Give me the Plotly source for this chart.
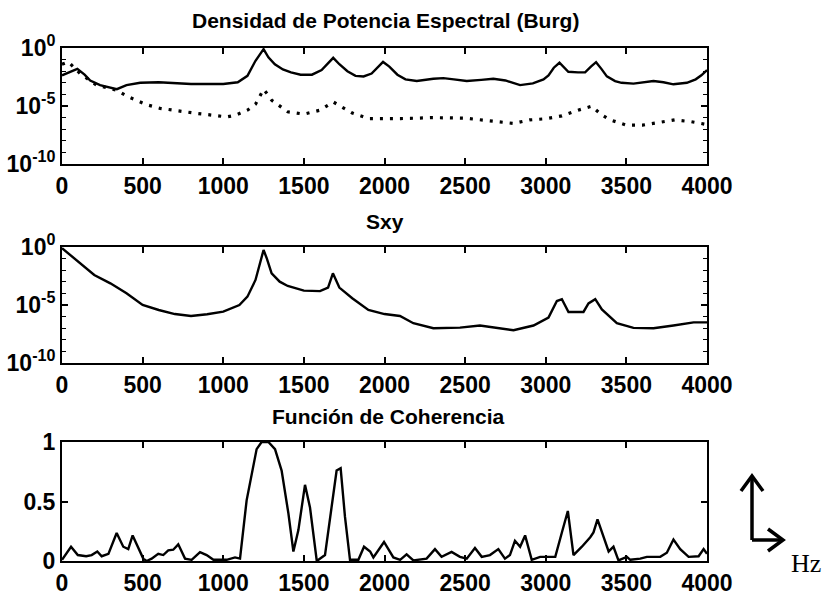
import plotly.graph_objects as go

# ---------------- data ----------------
# Panel 1: Burg PSD, solid series (Hz, log10 value)
psd1_hz = [0, 50, 95, 140, 175, 236, 300, 340, 400, 485, 600, 700, 800, 900, 1000, 1090,
           1150, 1200, 1230, 1250, 1280, 1320, 1370, 1420, 1480, 1550, 1610, 1650, 1682,
           1720, 1770, 1820, 1870, 1920, 1960, 1991, 2030, 2080, 2130, 2200, 2303, 2365,
           2430, 2510, 2600, 2675, 2750, 2841, 2920, 2986, 3017, 3050, 3085, 3115, 3140,
           3200, 3244, 3280, 3312, 3345, 3379, 3430, 3470, 3544, 3610, 3668, 3730, 3792,
           3875, 3930, 3965, 4000]
psd1_log = [-2.36, -2.1, -1.8, -2.3, -2.8, -3.2, -3.4, -3.55, -3.2, -3.0, -2.95, -3.05, -3.1,
            -3.1, -3.1, -2.95, -2.4, -1.1, -0.5, -0.1, -0.8, -1.4, -1.85, -2.1, -2.3, -2.3,
            -1.9, -1.3, -0.85, -1.4, -2.0, -2.4, -2.45, -2.2, -1.6, -1.2, -1.6, -2.3, -2.7,
            -2.85, -2.65, -2.6, -2.7, -2.85, -2.75, -2.65, -2.8, -3.2, -3.05, -2.7, -2.36,
            -1.7, -1.27, -1.7, -2.05, -2.1, -2.1, -1.6, -1.22, -1.8, -2.45, -2.85, -3.0,
            -3.07, -2.95, -2.85, -2.95, -3.13, -3.0, -2.7, -2.35, -1.9]

# Panel 1: Burg PSD, dotted series
psd2_hz = [0, 40, 112, 215, 340, 410, 527, 608, 815, 1022, 1075, 1150, 1200, 1235, 1250,
           1275, 1300, 1400, 1500, 1600, 1682, 1750, 1800, 1900, 2000, 2100, 2200, 2300,
           2500, 2700, 2800, 2900, 3000, 3100, 3200, 3285, 3350, 3400, 3500, 3600, 3700,
           3800, 3900, 4000]
psd2_log = [-1.4, -1.2, -2.2, -3.2, -3.65, -4.2, -4.9, -5.2, -5.6, -5.94, -5.8, -5.36, -4.85,
            -4.0, -3.56, -4.0, -4.5, -5.5, -5.7, -5.36, -4.65, -5.2, -5.6, -6.08, -6.1,
            -6.08, -6.05, -6.0, -6.05, -6.37, -6.5, -6.2, -6.1, -5.85, -5.36, -5.02, -5.8,
            -6.2, -6.65, -6.65, -6.45, -6.2, -6.35, -6.6]

# Panel 2: cross spectrum Sxy
sxy_hz = [0, 100, 200, 300, 400, 500, 600, 700, 800, 900, 1000, 1100, 1150, 1200, 1230,
          1250, 1270, 1300, 1350, 1400, 1500, 1600, 1650, 1680, 1720, 1800, 1900, 2000,
          2096, 2179, 2303, 2468, 2592, 2717, 2800, 2924, 3017, 3069, 3100, 3141, 3234,
          3265, 3307, 3348, 3441, 3544, 3668, 3792, 3917, 4000]
sxy_log = [-0.1, -1.25, -2.41, -3.13, -3.99, -5.0, -5.43, -5.78, -5.95, -5.8, -5.57, -5.0,
           -4.28, -2.84, -1.26, -0.26, -0.98, -2.27, -2.99, -3.36, -3.76, -3.8, -3.5, -2.27,
           -3.5, -4.42, -5.43, -5.78, -5.95, -6.57, -7.0, -6.95, -6.77, -7.05, -7.18,
           -6.77, -6.08, -4.66, -4.5, -5.6, -5.6, -4.86, -4.5, -5.38, -6.57, -6.97, -7.0,
           -6.77, -6.5, -6.5]

# Panel 3: coherence function
coh_hz = [0, 56, 98, 150, 184, 219, 246, 288, 339, 380, 411, 438, 504, 525, 556, 597, 628,
          659, 690, 721, 763, 804, 856, 897, 939, 1021, 1073, 1104, 1145, 1176, 1207, 1238,
          1280, 1321, 1362, 1404, 1435, 1466, 1507, 1538, 1580, 1631, 1672, 1703, 1728,
          1755, 1786, 1838, 1873, 1911, 1931, 1997, 2055, 2097, 2137, 2179, 2261, 2313,
          2354, 2416, 2468, 2510, 2561, 2603, 2654, 2706, 2747, 2778, 2809, 2841, 2872,
          2913, 2965, 3017, 3059, 3100, 3137, 3172, 3224, 3276, 3296, 3321, 3358, 3390,
          3420, 3451, 3503, 3524, 3586, 3627, 3710, 3751, 3792, 3834, 3886, 3948, 3979, 4000]
coh_val = [0.01, 0.12, 0.05, 0.04, 0.05, 0.08, 0.04, 0.06, 0.235, 0.12, 0.1, 0.215, 0.02, 0.0,
           0.02, 0.06, 0.05, 0.09, 0.095, 0.14, 0.02, 0.01, 0.075, 0.05, 0.01, 0.01, 0.03,
           0.02, 0.51, 0.71, 0.94, 1.0, 1.0, 0.94, 0.76, 0.40, 0.08, 0.26, 0.64, 0.45, 0.0,
           0.05, 0.45, 0.76, 0.78, 0.37, 0.01, 0.01, 0.12, 0.08, 0.03, 0.16, 0.03, 0.01,
           0.056, 0.005, 0.02, 0.1, 0.035, 0.076, 0.035, 0.02, 0.11, 0.035, 0.05, 0.10,
           0.02, 0.05, 0.17, 0.12, 0.215, 0.01, 0.035, 0.035, 0.035, 0.24, 0.42, 0.05, 0.12,
           0.2, 0.24, 0.35, 0.2, 0.08, 0.12, 0.005, 0.035, 0.01, 0.02, 0.035, 0.035, 0.07,
           0.18, 0.10, 0.035, 0.04, 0.10, 0.06]

x_ticks = [0, 500, 1000, 1500, 2000, 2500, 3000, 3500, 4000]
log_major_exps = [0, -5, -10]
log_major_labels = ["10<sup>0</sup>", "10<sup>-5</sup>", "10<sup>-10</sup>"]
log_minor_exps = list(range(0, -11, -1))
coh_ticks = [0, 0.5, 1]
coh_tick_labels = ["0", "0.5", "1"]

titles = ["Densidad de Potencia Espectral (Burg)", "Sxy", "Función de Coherencia"]

# ---------------- figure ----------------
W, H = 824, 596
def px(x):
    return x / W
def py(y):
    return 1 - y / H

FONT = "Liberation Sans, Arial, Helvetica, sans-serif"
tickfont = dict(family=FONT, size=23, color="black", weight="bold")

fig = go.Figure()
line_w = 2.4
fig.add_trace(go.Scatter(x=psd1_hz, y=[10 ** v for v in psd1_log], mode="lines",
                         line=dict(color="black", width=line_w), xaxis="x", yaxis="y"))
fig.add_trace(go.Scatter(x=psd2_hz, y=[10 ** v for v in psd2_log], mode="lines",
                         line=dict(color="black", width=line_w + 0.8, dash="3px,7px"),
                         xaxis="x", yaxis="y"))
fig.add_trace(go.Scatter(x=sxy_hz, y=[10 ** v for v in sxy_log], mode="lines",
                         line=dict(color="black", width=line_w), xaxis="x2", yaxis="y2"))
fig.add_trace(go.Scatter(x=coh_hz, y=coh_val, mode="lines",
                         line=dict(color="black", width=line_w), xaxis="x3", yaxis="y3",
                         cliponaxis=False))

xdom = [px(62), px(707)]
ydoms = [[py(164), py(48)], [py(363), py(247)], [py(561), py(442)]]

common_x = dict(range=[0, 4000], tickmode="array", tickvals=x_ticks,
                ticktext=[str(t) for t in x_ticks], ticks="inside", ticklen=6,
                tickwidth=1.5, tickcolor="black", mirror="ticks", showline=True,
                linewidth=2, linecolor="black", showgrid=False, zeroline=False,
                tickfont=tickfont, domain=xdom, fixedrange=True, automargin=False)
common_y = dict(ticks="inside", ticklen=6, tickwidth=1.5, tickcolor="black",
                mirror="ticks", showline=True, linewidth=2, linecolor="black",
                showgrid=False, zeroline=False, tickfont=tickfont, fixedrange=True,
                automargin=False)

log_axis = dict(type="log", range=[-10, 0], tickmode="array",
                tickvals=[10 ** e for e in log_major_exps], ticktext=log_major_labels,
                minor=dict(tickmode="array", tickvals=[10 ** e for e in log_minor_exps],
                           ticks="inside", ticklen=4, tickwidth=1.3, tickcolor="black",
                           showgrid=False))

fig.update_layout(
    width=W, height=H, autosize=False,
    margin=dict(l=0, r=0, t=0, b=0, autoexpand=False),
    paper_bgcolor="white", plot_bgcolor="white",
    showlegend=False,
    xaxis=dict(common_x, anchor="y"),
    yaxis=dict(common_y, **log_axis, domain=ydoms[0], anchor="x"),
    xaxis2=dict(common_x, anchor="y2"),
    yaxis2=dict(common_y, **log_axis, domain=ydoms[1], anchor="x2"),
    xaxis3=dict(common_x, anchor="y3"),
    yaxis3=dict(common_y, range=[0, 1], tickmode="array", tickvals=coh_ticks,
                ticktext=coh_tick_labels, domain=ydoms[2], anchor="x3"),
)

title_pos = [(385, 21), (385, 221), (388, 416)]
for t, (tx, ty) in zip(titles, title_pos):
    fig.add_annotation(text=t, x=px(tx), y=py(ty), xref="paper", yref="paper",
                       xanchor="center", yanchor="middle", showarrow=False,
                       font=dict(family=FONT, size=21, color="black", weight="bold"))

# axis-direction arrow glyph with "Hz"
def path(points):
    return "M " + " L ".join(f"{px(x):.5f},{py(y):.5f}" for x, y in points)

arrow_paths = [
    [(752, 540), (752, 477)],
    [(741, 491), (752, 476), (763, 491)],
    [(752, 540), (781, 540)],
    [(768, 529), (783, 540), (768, 551)],
]
for pts in arrow_paths:
    fig.add_shape(type="path", path=path(pts), xref="paper", yref="paper",
                  line=dict(color="black", width=3.5))
fig.add_annotation(text="Hz", x=px(806), y=py(563), xref="paper", yref="paper",
                   xanchor="center", yanchor="middle", showarrow=False,
                   font=dict(family="Liberation Serif, Times New Roman, serif", size=26,
                             color="black"))

fig.write_html("out.html")
